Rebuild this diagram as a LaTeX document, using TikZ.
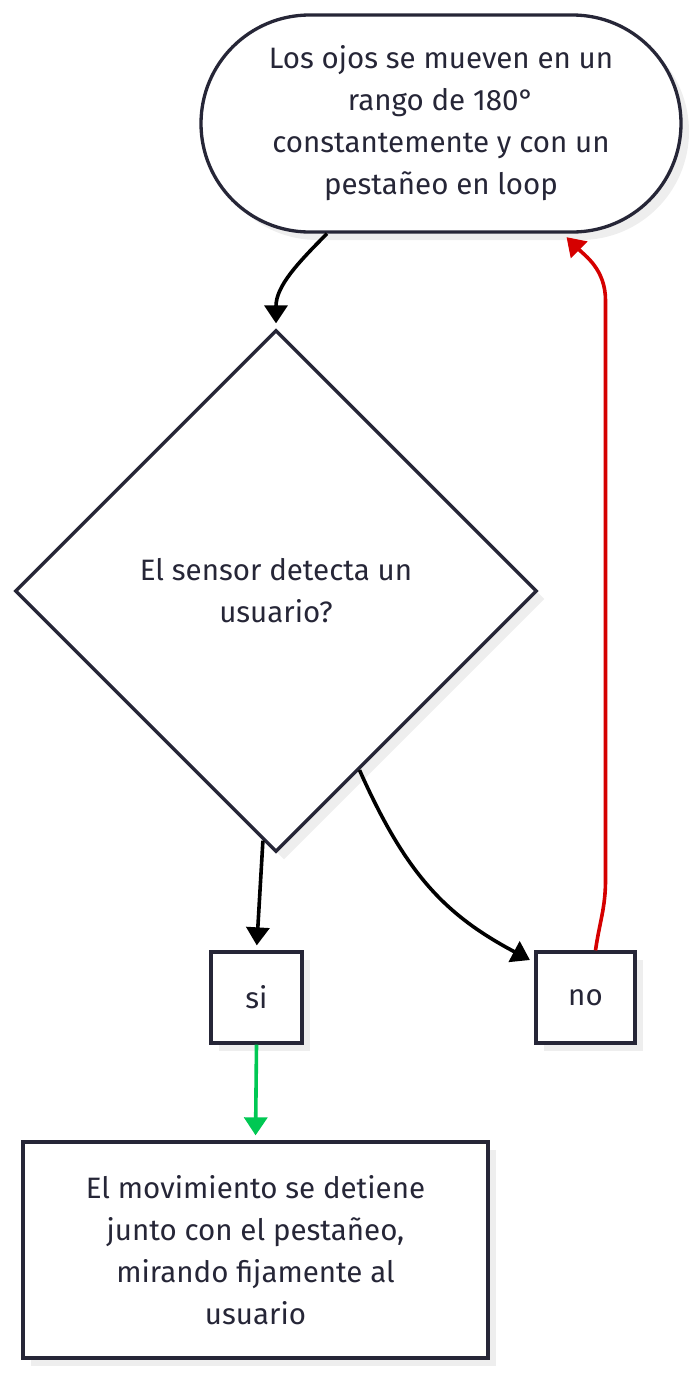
\documentclass[tikz,border=0pt]{standalone}
\usepackage{fontspec}
\setmainfont{Fira Sans}
\usetikzlibrary{arrows.meta,shapes.geometric,shapes.misc,shadows,positioning}
\definecolor{ink}{HTML}{262637}
\definecolor{shade}{HTML}{EEEEEE}
\definecolor{okgreen}{HTML}{00C853}
\definecolor{nored}{HTML}{D50000}
\tikzset{
  box/.style={draw=ink,line width=3.3pt,fill=white,text=ink,align=center,inner sep=0pt,
    font=\fontsize{29.5}{42}\selectfont,
    drop shadow={shadow xshift=8pt,shadow yshift=-8pt,fill=shade,opacity=1}},
  link/.style={line width=3.6pt,shorten >=5pt,-{Triangle[length=18pt,width=23pt]}}
}
\begin{document}
\begin{tikzpicture}[x=1pt,y=1pt]
  \useasboundingbox (0,0) rectangle (697,-1374);
  \node[box,rounded rectangle,minimum width=480pt,minimum height=217pt] (eyes) at (441,-123.5)
    {Los ojos se mueven en un\\rango de 180°\\constantemente y con un\\pestañeo en loop};
  \node[box,diamond,minimum width=522pt,minimum height=522pt] (sensor) at (276,-591)
    {El sensor detecta un\\usuario?};
  \node[box,minimum width=91pt,minimum height=91pt] (si) at (256.5,-997.5) {si};
  \node[box,minimum width=99pt,minimum height=91pt] (no) at (585.5,-997.5) {no};
  \node[box,minimum width=465pt,minimum height=216pt] (stop) at (255.5,-1250)
    {El movimiento se detiene\\junto con el pestañeo,\\mirando fijamente al\\usuario};
  \draw[link] ([xshift=-114pt]eyes.south) to[out=-135,in=90] (sensor.north);
  \draw[link] (sensor.267) -- (si.north);
  \draw[link] (sensor.295) .. controls +(-66:115pt) and +(152:100pt) .. ([yshift=-12pt]no.north west);
  \draw[link,okgreen] (si.south) -- (stop.north);
  \draw[link,nored] ([xshift=10pt]no.north) to[out=82,in=-90] ++(10pt,70pt) -- ++(0,580pt)
    to[out=90,in=-45] ([xshift=122pt]eyes.south);
\end{tikzpicture}
\end{document}
